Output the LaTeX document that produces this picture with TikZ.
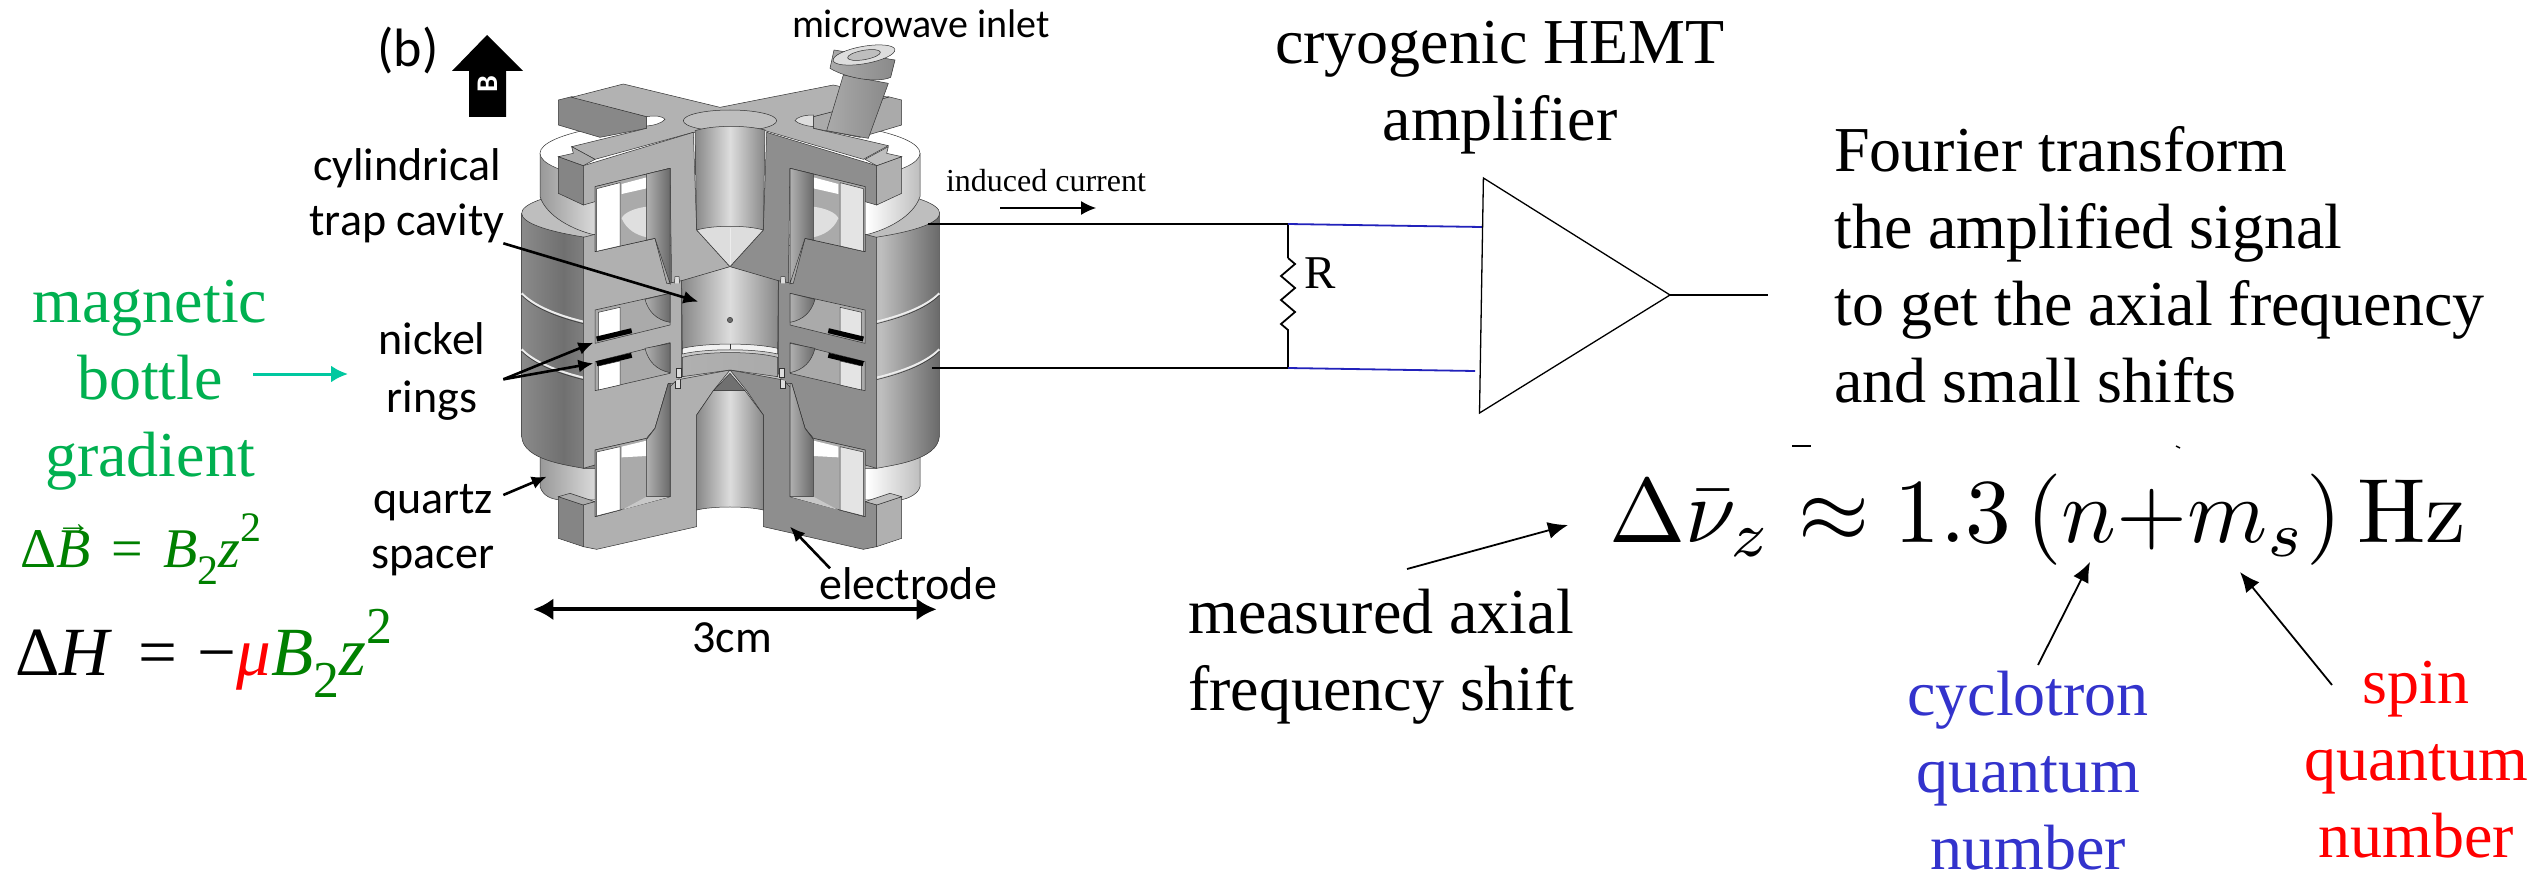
\documentclass[tikz,border=0pt]{standalone}
\usepackage[no-math]{fontspec}
\usepackage{graphicx}
\setmainfont{Liberation Serif}
\newfontfamily\carl{Carlito}
\usetikzlibrary{arrows.meta,decorations.pathmorphing}
\definecolor{cA}{HTML}{8A8A8A}\definecolor{cB}{HTML}{707070}\definecolor{cC}{HTML}{B0B0B0}
\definecolor{cD}{HTML}{DDDDDD}\definecolor{cE}{HTML}{AAAAAA}\definecolor{cF}{HTML}{BEBEBE}
\definecolor{cG}{HTML}{6A6A6A}\definecolor{cH}{HTML}{F2F2F2}\definecolor{cI}{HTML}{FFFFFF}
\definecolor{cJ}{HTML}{999999}\definecolor{cK}{HTML}{888888}
\definecolor{tgreen}{HTML}{00B050}\definecolor{mgreen}{HTML}{008000}
\definecolor{tblue}{HTML}{3333CC}\definecolor{wblue}{HTML}{2222BB}\definecolor{teal}{HTML}{00C8A0}
\pgfdeclarehorizontalshading{bodysh}{100bp}{color(0bp)=(cA);color(25bp)=(cA);color(30bp)=(cB);color(40bp)=(cC);color(50bp)=(cD);color(60bp)=(cE);color(68bp)=(cF);color(75bp)=(cG);color(100bp)=(cG)}
\pgfdeclarehorizontalshading{quartzsh}{100bp}{color(0bp)=(cJ);color(25bp)=(cJ);color(35bp)=(cH);color(50bp)=(cI);color(68bp)=(cI);color(75bp)=(cF);color(100bp)=(cF)}
\pgfdeclarehorizontalshading{boresh}{100bp}{color(0bp)=(cK);color(25bp)=(cK);color(50bp)=(cD);color(75bp)=(cK);color(100bp)=(cK)}
\tikzset{
 sec/.style={draw=black!80,line width=.5pt},
 tnr/.style={font=\fontsize{64}{77}\selectfont,align=center,inner sep=0pt},
 lab/.style={font=\carl\fontsize{46}{55}\selectfont,align=center,inner sep=0pt},
 fat/.style={line width=2.6pt,-{Latex[length=15pt,width=13pt]}},
 thin arrow/.style={line width=1.8pt,-{Latex[length=20pt,width=17pt]}},
 wire/.style={line width=1.8pt},
}
\newcommand\msb[1]{\raisebox{-.32em}{\scalebox{.75}{#1}}}
\newcommand\msp[1]{\raisebox{.45em}{\scalebox{.75}{#1}}}
% one half of the cut-away trap, in left-hand coordinates
\newcommand\halfparts[5]{%
 % arm end faces
 \filldraw[sec,fill=#2] (235,470)--(310,497)--(310,615)--(235,580)--cycle;
 \filldraw[sec,fill=#5] (235,470)--(280,460)--(275,440)--(345,478)--(310,497)--cycle;
 \filldraw[sec,fill=#2] (235,1490)--(310,1515)--(310,1640)--(235,1615)--cycle;
 \filldraw[sec,fill=#5] (235,1490)--(270,1480)--(345,1505)--(310,1515)--cycle;
 % section faces
 \filldraw[sec,fill=#1] (310,497)--(640,397)--(650,690)--(750,800)--(605,845)--(575,850)--(570,505)--(345,560)--(345,605)--(310,615)--cycle;
 \filldraw[sec,fill=#1] (310,712)--(345,703)--(345,755)--(525,715)--(565,850)--(605,842)--(605,1120)--(590,1150)--(565,1150)--(525,1285)--(500,1315)--(345,1350)--(345,1395)--(310,1405)--cycle;
 \filldraw[sec,fill=#1] (310,1515)--(345,1505)--(345,1550)--(570,1490)--(570,1160)--(590,1140)--(750,1110)--(700,1172)--(650,1245)--(650,1580)--(350,1648)--(310,1640)--cycle;
 % upper hole
 \filldraw[sec,fill=cE] (345,560)--(570,505)--(570,850)--(560,850)--(525,715)--(345,755)--cycle;
 \fill[white!75!gray] (425,655) .. controls (440,690) and (470,705) .. (500,712) -- (500,620) .. controls (460,625) and (430,640) .. (425,655) -- cycle;
 \fill[white] (425,552)--(500,532)--(500,565)--(425,582)--cycle;
 \filldraw[sec,fill=#3] (350,566)--(420,548)--(420,738)--(350,754)--cycle;
 \shadedraw[sec,left color=cC,right color=cG] (500,522)--(570,505)--(570,850)--(525,715)--(500,720)--cycle;
 % window above the ring bar
 \filldraw[sec,fill=cE] (345,930)--(570,880)--(570,975)--(345,1030)--cycle;
 \filldraw[sec,fill=#3] (355,937)--(420,922)--(420,1000)--(355,1015)--cycle;
 \shadedraw[sec,left color=cC,right color=cG] (495,898)--(570,880)--(570,967) .. controls (530,960) and (505,935) .. (495,898) -- cycle;
 % window below the ring bar
 \filldraw[sec,fill=cE] (345,1085)--(570,1028)--(570,1120)--(345,1172)--cycle;
 \filldraw[sec,fill=#3] (355,1098)--(420,1083)--(420,1155)--(355,1170)--cycle;
 \shadedraw[sec,left color=cC,right color=cG] (495,1045)--(570,1030)--(570,1118) .. controls (530,1110) and (505,1085) .. (495,1045) -- cycle;
 % nickel rings
 \draw[line width=5pt,black] (350,1017)--(455,992);
 \draw[line width=5pt,black] (350,1091)--(455,1066);
 % lower hole
 \filldraw[sec,fill=cE] (345,1350)--(500,1315)--(525,1285)--(565,1150)--(570,1150)--(570,1490)--(345,1550)--cycle;
 \fill[white] (425,1340)--(500,1322)--(500,1368)--(425,1372)--cycle;
 \fill[cC!70!white] (425,1530)--(500,1490)--(570,1490)--cycle;
 \filldraw[sec,fill=#3] (350,1356)--(420,1340)--(420,1530)--(350,1548)--cycle;
 \shadedraw[sec,left color=cC,right color=cG] (500,1318)--(525,1285)--(565,1150)--(570,1150)--(570,1490)--(500,1490)--cycle;
 % small pins
 \draw[sec,fill=cD] (583,850) -- (585,830) -- (597,830) -- (599,850);
 \draw[sec,fill=cD] (585,1142) -- (585,1165) -- (600,1165) -- (600,1138);
 \draw[sec,fill=cD] (588,1105) -- (588,1132) -- (603,1132) -- (603,1105) -- cycle;
}
\begin{document}
\begin{tikzpicture}[x=1pt,y=-1pt]
\useasboundingbox (0,0) rectangle (2534,872);
\fill[white] (0,0) rectangle (2534,872);
%% ------------ the trap
\begin{scope}[shift={(480,0)},x=.33333pt,y=-.33333pt]
 % lower quartz spacer
 \shadedraw[sec,shading=quartzsh] (180,1370)--(180,1460) .. controls (190,1490) and (215,1497) .. (240,1500) -- (1260,1500) .. controls (1290,1495) and (1315,1480) .. (1320,1460) -- (1320,1370)--cycle;
 % main cylinder
 \shadedraw[sec,shading=bodysh] (125,640)--(125,1310) .. controls (130,1380) and (260,1395) .. (310,1405) -- (1190,1405) .. controls (1240,1395) and (1372,1380) .. (1378,1310) -- (1378,640)--cycle;
 % grooves
 \foreach \yy in {880,1048}{
  \draw[line width=2pt,white!85!gray] (125,\yy) .. controls (170,\yy+45) and (250,\yy+70) .. (310,\yy+85);
  \draw[line width=2pt,white!85!gray] (1378,\yy) .. controls (1333,\yy+45) and (1250,\yy+70) .. (1190,\yy+85);
  \draw[sec] (125,\yy+6) .. controls (170,\yy+51) and (250,\yy+76) .. (310,\yy+91);
  \draw[sec] (1378,\yy+6) .. controls (1333,\yy+51) and (1250,\yy+76) .. (1190,\yy+91);
 }
 % top of main cylinder
 \filldraw[sec,fill=cF] (752,640) ellipse [x radius=627,y radius=100];
 % upper quartz spacer
 \shadedraw[sec,shading=quartzsh] (180,460)--(180,590) .. controls (200,650) and (280,690) .. (345,705) -- (1155,705) .. controls (1220,690) and (1300,650) .. (1320,590) -- (1320,460)--cycle;
 \filldraw[sec,fill=white] (750,460) ellipse [x radius=570,y radius=108];
 % back arms and top plate
 \filldraw[sec,fill=cK] (235,300)--(275,290)--(500,350)--(500,385)--(360,412)--(235,375)--cycle;
 \filldraw[sec,fill=cE] (1265,300)--(1225,290)--(1000,350)--(1000,385)--(1140,412)--(1265,375)--cycle;
 \filldraw[sec,fill=cE!90!white] (275,292)--(430,252)--(720,322)--(1060,255)--(1225,292)--(1000,350)--(1000,385)--(1225,437)--(1150,478)--(855,392)--(640,397)--(345,478)--(275,440)--(500,385)--(500,350)--cycle;
 \filldraw[sec,fill=white] (500,350) .. controls (530,345) and (550,350) .. (555,358) .. controls (545,370) and (520,377) .. (500,378) -- cycle;
 \filldraw[sec,fill=cD] (1000,345) .. controls (970,345) and (950,352) .. (945,362) .. controls (955,372) and (980,378) .. (1000,380) -- cycle;
 % microwave inlet
 \shadedraw[sec,left color=cE,middle color=cD,right color=cA] (1040,392)--(1090,225)--(1225,250)--(1165,415)--cycle;
 \shadedraw[sec,left color=cE,middle color=cD,right color=cA] (1062,150)--(1050,205) .. controls (1100,235) and (1190,250) .. (1232,232) -- (1245,180)--cycle;
 \filldraw[sec,fill=cD,rotate around={10:(1152,165)}] (1152,165) ellipse [x radius=94,y radius=26];
 \filldraw[sec,fill=cF,rotate around={10:(1152,165)}] (1152,165) ellipse [x radius=50,y radius=14];
 \shadedraw[sec,left color=cH,right color=cE] (1020,535)--(1080,550)--(1080,612)--(1020,590)--cycle;
 % halves
 \halfparts{cC}{cB!85!white}{white}{}{cE}
 \begin{scope}[shift={(1500,0)},xscale=-1]
  \halfparts{cK!95!white}{cC}{cD!80!white}{}{cF}
 \end{scope}
 % upper bore and cone
 \shadedraw[sec,left color=cF,middle color=white,right color=cF] (750,362) ellipse [x radius=140,y radius=32];
 \shadedraw[sec,shading=boresh] (645,392) .. controls (700,375) and (800,375) .. (855,390) -- (850,690)--(650,690)--cycle;
 \shadedraw[sec,left color=cD,middle color=white,right color=cD] (650,690) .. controls (700,675) and (800,675) .. (850,690) -- (750,800)--cycle;
 \draw[white!85!gray] (750,685)--(750,795);
 % cavity
 \shadedraw[sec,shading=boresh] (605,842)--(750,800)--(895,842)--(893,1050)--(607,1050)--cycle;
 \filldraw[sec,fill=cH] (607,1045) .. controls (680,1028) and (820,1028) .. (893,1045) -- (893,1062) .. controls (820,1045) and (680,1045) .. (607,1062) -- cycle;
 \draw[sec] (750,1032)--(750,1048);
 \shadedraw[sec,left color=cC,middle color=cF,right color=cE] (607,1072) .. controls (680,1053) and (820,1053) .. (893,1072) -- (893,1130)--(750,1110)--(607,1130)--cycle;
 \filldraw[sec,fill=cJ!70!black] (750,960) circle [radius=8];
 % lower bore
 \shadedraw[sec,shading=boresh] (650,1245)--(700,1172)--(795,1172)--(850,1245)--(850,1530) .. controls (800,1518) and (700,1518) .. (650,1530)--cycle;
 \filldraw[sec,fill=cB] (700,1172)--(750,1120)--(795,1172)--cycle;
 % coordinates of arrow ends
 \coordinate (cavtip) at (655,905);
 \coordinate (ringA) at (340,1028);
 \coordinate (ringB) at (340,1090);
 \coordinate (quartztip) at (200,1430);
 \coordinate (electip) at (930,1580);
 \coordinate (widthL) at (160,1828);
 \coordinate (widthR) at (1370,1828);
 \coordinate (cavfrom) at (70,730);
 \coordinate (ringfrom) at (70,1138);
 \coordinate (quartzfrom) at (70,1485);
 \coordinate (elecfrom) at (1050,1705);
\end{scope}
%% ------------ labels of the trap
\node[lab,font=\carl\fontsize{54}{55}\selectfont] (btext) at (408,50) {(b)};
\fill[black] (487,35)--(523,71)--(506,71)--(506,117)--(469,117)--(469,71)--(452,71)--cycle;
\node[lab,text=white,rotate=90,font=\carl\bfseries\fontsize{30}{30}\selectfont] (bfield) at (488,84) {B};
\node[lab,font=\carl\fontsize{40}{50}\selectfont] (mw) at (921,24) {microwave inlet};
\node[lab] (cyl) at (407,196) {cylindrical\\trap cavity};
\node[lab,font=\carl\fontsize{46}{58}\selectfont] (nick) at (432,371) {nickel\\rings};
\node[lab] (quartz) at (433,530) {quartz\\spacer};
\node[lab] (elec) at (908,584) {electrode};
\node[lab] (threecm) at (732,638) {3cm};
\draw[fat] (cavfrom)--(cavtip);
\draw[fat] (ringfrom)--(ringA);
\draw[fat] (ringfrom)--(ringB);
\draw[fat] (quartzfrom)--(quartztip);
\draw[fat] (elecfrom)--(electip);
\draw[line width=4pt,{Latex[length=20pt,width=22pt]}-{Latex[length=20pt,width=22pt]}] (widthL)--(widthR);
%% ------------ left text
\node[tnr,text=tgreen] (bottle) at (150,385) {magnetic\\bottle\\gradient};
\coordinate (tealA) at (253,374);\coordinate (tealB) at (348,374);
\draw[teal,line width=3pt,-{Latex[length=17pt,width=17pt]}] (tealA)--(tealB);
\node[inner sep=0pt,anchor=base west,text=mgreen,font=\fontsize{56}{60}\selectfont] (eqb) at (20,567) {Δ\makebox[0pt][l]{\raisebox{.58em}{\scalebox{.62}{→}}}\textit{B}\hspace{.12em} = \hspace{.12em}\textit{B}\msb{2}\textit{z}\msp{2}};
\node[inner sep=0pt,anchor=base west,font=\fontsize{69}{70}\selectfont] (eqh) at (15,675) {Δ\textit{H}\hspace{.12em} = \hspace{.05em}−\textcolor{red}{\textit{μ}}\textcolor{mgreen}{\textit{B}\msb{2}\textit{z}\msp{2}}};
%% ------------ circuit
\coordinate (w1) at (928,224);\coordinate (w2) at (1288,224);\coordinate (w3) at (1482,227);
\coordinate (w4) at (932,368);\coordinate (w5) at (1288,368);\coordinate (w6) at (1475,371);
\coordinate (r1) at (1288,258);\coordinate (r2) at (1288,332);
\coordinate (ia) at (1000,208);\coordinate (ib) at (1096,208);
\coordinate (amp1) at (1483.4,178);\coordinate (amp2) at (1670,295);\coordinate (amp3) at (1479.5,413);\coordinate (out) at (1768,295);
\draw[wire] (w1)--(w2)--(r1);
\draw[wire,decorate,decoration={zigzag,segment length=24pt,amplitude=7pt}] (r1)--(r2);
\draw[wire] (r2)--(w5);
\draw[wire] (w4)--(w5);
\draw[wblue,wire] (w2)--(w3);
\draw[wblue,wire] (w5)--(w6);
\draw[line width=1.3pt,line join=miter] (amp1)--(amp2)--(amp3)--cycle;
\draw[line width=1.3pt] (amp2)--(out);
\draw[line width=1.3pt,-{Latex[length=15pt,width=14pt]}] (ia)--(ib);
\node[tnr,font=\fontsize{32}{36}\selectfont] (ind) at (1046,181) {induced current};
\node[tnr,font=\fontsize{47}{50}\selectfont] (res) at (1320,273) {R};
%% ------------ right text
\node[tnr] (hemt) at (1500,88) {cryogenic HEMT\\amplifier};
\node[tnr,align=left,anchor=west] (fourier) at (1834,265) {Fourier transform\\the amplified signal\\to get the axial frequency\\and small shifts};
\node[inner sep=0pt,scale=9.13] (eq) at (2038,520) {$\Delta\bar\nu_z\approx 1.3\,(n{+}m_s)\,\mathrm{Hz}$};
\draw[line width=1.5pt] (1792,446)--(1811,446);
\draw[line width=1.5pt] (2176,446)--(2180,448);
\node[tnr,align=left,anchor=west] (meas) at (1188,657) {measured axial\\frequency shift};
\node[tnr,text=tblue] (cyc) at (2028,771) {cyclotron\\quantum\\number};
\node[tnr,text=red] (spin) at (2416,760) {spin\\quantum\\number};
\coordinate (ma) at (1407,569);\coordinate (mb) at (1568,525);
\coordinate (ca) at (2038,665);\coordinate (cb) at (2090,562);
\coordinate (sa) at (2332,685);\coordinate (sb) at (2240,572);
\draw[thin arrow] (ma)--(mb);
\draw[thin arrow] (ca)--(cb);
\draw[thin arrow] (sa)--(sb);
\end{tikzpicture}
\end{document}
